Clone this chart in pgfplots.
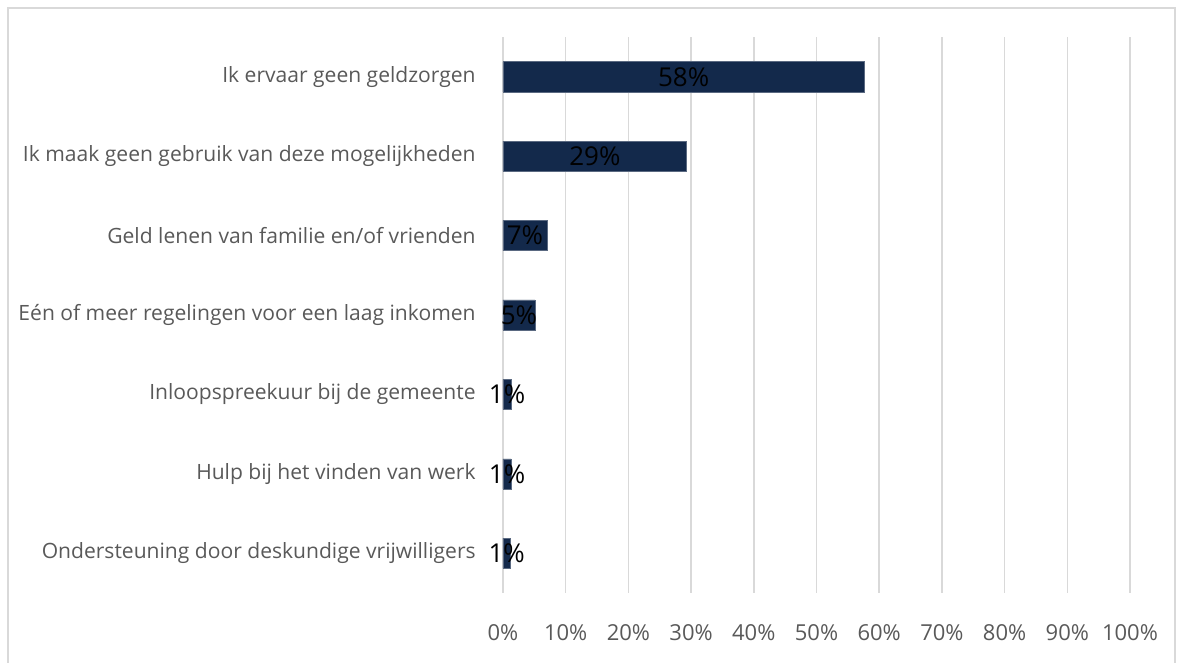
\documentclass[border=0pt]{standalone}
\usepackage{pgfplots}
\pgfplotsset{compat=1.18}
\usepackage{pgfplotstable}
\usepackage{fontspec}
\setmainfont{Open Sans}
\definecolor{barblue}{HTML}{13294B}
\definecolor{txtgray}{HTML}{595959}
\definecolor{gridgray}{HTML}{D9D9D9}

% idx = row from the top, val = bar length (%), lbl = printed label
\pgfplotstableread{
idx val  lbl
0   57.6 58
1   29.3 29
2   7.0  7
3   5.1  5
4   1.3  1
5   1.3  1
6   1.2  1
}\datatable

\begin{document}
\begin{tikzpicture}
\useasboundingbox (0,0) rectangle (886.5pt,496.5pt);
\draw[gridgray, line width=1pt] (6pt,-2pt) -- (6pt,490.5pt) -- (881.25pt,490.5pt) -- (881.25pt,-2pt);
\begin{axis}[
    at={(377.25pt,51.75pt)}, anchor=south west,
    scale only axis, width=470.25pt, height=417pt,
    xmin=0, xmax=100, ymin=-0.5, ymax=6.5,
    y dir=reverse,
    axis line style={draw=none},
    xtick={0,10,...,100},
    xticklabel={\pgfmathprintnumber{\tick}\%},
    /pgf/number format/assume math mode=true,
    xmajorgrids, major grid style={gridgray, line width=1.1pt},
    ytick={0,...,6},
    yticklabels={Ik ervaar geen geldzorgen,
                 Ik maak geen gebruik van deze mogelijkheden,
                 Geld lenen van familie en/of vrienden,
                 Eén of meer regelingen voor een laag inkomen,
                 Inloopspreekuur bij de gemeente,
                 Hulp bij het vinden van werk,
                 Ondersteuning door deskundige vrijwilligers},
    major tick length=0pt,
    tick label style={text=txtgray},
    yticklabel style={font=\fontsize{15.8}{18}\selectfont, xshift=-17pt},
    xticklabel style={font=\fontsize{16.5}{19}\selectfont, yshift=-20pt, inner xsep=1pt},
    clip=false,
]
\addplot[xbar, bar width=0.38, fill=barblue, draw=barblue!70!white, line width=0.4pt]
    table[x=val, y=idx] {\datatable};
\addplot[draw=none, mark=none, x filter/.expression={x/2},
    point meta=explicit, nodes near coords={\pgfmathprintnumber[fixed,precision=0]{\pgfplotspointmeta}\%},
    every node near coord/.append style={anchor=center, text=black, font=\fontsize{19.5}{22}\selectfont}]
    table[x=val, y=idx, meta=lbl] {\datatable};
\end{axis}
\end{tikzpicture}
\end{document}
